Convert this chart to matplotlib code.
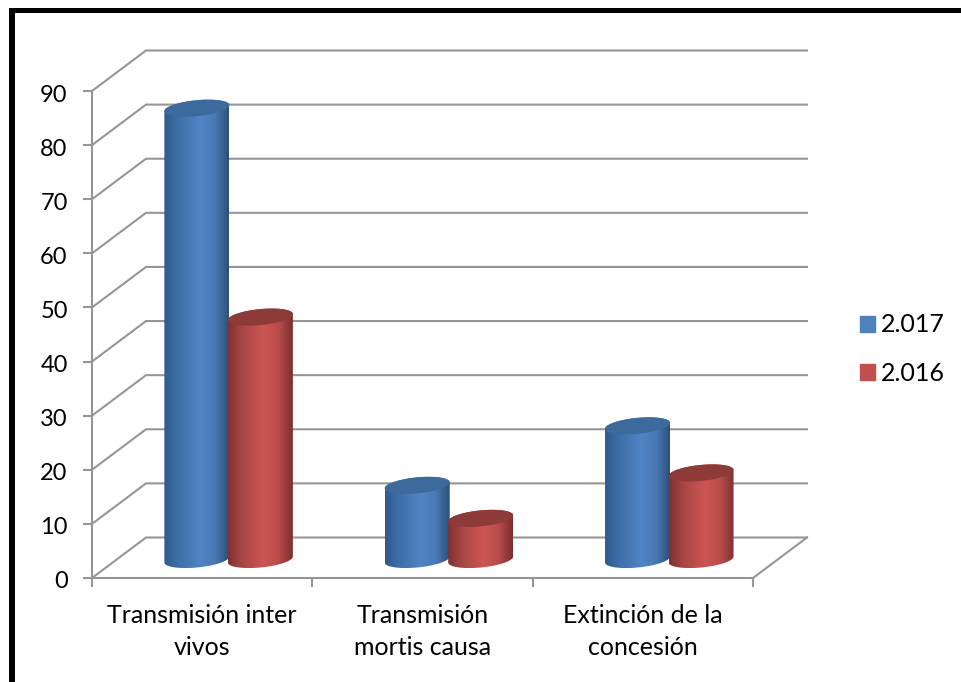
import numpy as np
import matplotlib
matplotlib.use("Agg")
import matplotlib.pyplot as plt
from matplotlib.patches import Patch, PathPatch, Rectangle
from matplotlib.path import Path
from matplotlib.transforms import ScaledTranslation

plt.rcParams['font.family'] = ['Lato', 'DejaVu Sans']

categories = ['Transmisión inter\nvivos', 'Transmisión\nmortis causa', 'Extinción de la\nconcesión']
series_names = ['2.017', '2.016']
values_2017 = [83.4, 13.7, 24.7]
values_2016 = [44.8, 7.6, 16]
y_ticks = list(range(0, 100, 10))

W, H = 961, 682
# axes box in pixels
left, right, bottom, top = 92, 753, 578, 91
px_x = (right - left) / 3
px_y = (bottom - top) / 90

# 3d look: depth of the floor, cylinder size
depth_x = 54 / px_x
depth_y = 40.5 / px_y
half_w = 32.5 / px_x
step = 63.5 / px_x
ell_b = 8 / px_y
ell_s = 3 / px_y
base_y = 18.5 / px_y

grey = '#969696'
blue_grad = ['#2f5a8c', '#3f6ea8', '#5084c4', '#4a7ab6', '#2c5078']
red_grad = ['#7d3231', '#a84644', '#cd5654', '#b84c4a', '#7a2f2e']
blue_top = '#3d6a9c'
red_top = '#8d3a39'

fig = plt.figure(figsize=(W / 100, H / 100), dpi=100)
ax = fig.add_axes([left / W, 1 - bottom / H, (right - left) / W, (bottom - top) / H])
ax.patch.set_alpha(0)


def ellipse(cx, cy, t):
    return cx + half_w * np.cos(t), cy + ell_b * np.sin(t) + ell_s * np.cos(t)


def cylinder(cx, value, stops, top_color):
    t_low = np.linspace(np.pi, 2 * np.pi, 60)
    t_up = np.linspace(0, np.pi, 60)
    x0, y0 = ellipse(cx, base_y, t_low)
    x1, y1 = ellipse(cx, base_y + value, t_up)
    pts = np.column_stack([np.r_[x0, x1], np.r_[y0, y1]])
    body = PathPatch(Path(np.vstack([pts, pts[0]])), transform=ax.transData, fc='none', ec='none')
    ax.add_patch(body)

    rgb = np.array([matplotlib.colors.to_rgb(c) for c in stops])
    s = np.linspace(0, 1, 200)
    pos = [0, 0.22, 0.55, 0.78, 1]
    grad = np.stack([np.interp(s, pos, rgb[:, i]) for i in range(3)], axis=1)[None, :, :]
    im = ax.imshow(grad, extent=[cx - half_w, cx + half_w, 0, base_y + value + 2 * ell_b],
                   aspect='auto', zorder=3, interpolation='bilinear')
    im.set_clip_path(body)

    t = np.linspace(0, 2 * np.pi, 120)
    x2, y2 = ellipse(cx, base_y + value, t)
    ax.fill(x2, y2, color=top_color, lw=0, zorder=3, clip_on=False)


# walls and floor
for v in y_ticks:
    ax.plot([0, depth_x, 3 + depth_x], [v, v + depth_y, v + depth_y], color=grey, lw=1.5,
            clip_on=False, zorder=1, solid_joinstyle='miter')
ax.plot([3, 3 + depth_x], [0, depth_y], color=grey, lw=1.5, clip_on=False, zorder=1)

for i in range(len(categories)):
    mid = i + 0.5 + depth_x * 0.49
    cylinder(mid - step / 2, values_2017[i], blue_grad, blue_top)
    cylinder(mid + step / 2, values_2016[i], red_grad, red_top)

ax.set_xlim(0, 3)
ax.set_ylim(0, 90)
ax.set_yticks(y_ticks)
ax.set_xticks([0, 1, 2, 3], labels=[])
ax.set_xticks([0.5, 1.5, 2.5], labels=categories, minor=True, linespacing=1.5)
ax.tick_params(axis='x', which='minor', length=0, pad=18.5, labelsize=18)
ax.tick_params(axis='x', which='major', length=6.5, width=1.5, color=grey)
ax.tick_params(axis='y', length=6.5, width=1.5, color=grey, pad=11, labelsize=17)
for label in ax.get_yticklabels():
    label.set_transform(label.get_transform() + ScaledTranslation(0, -2 / 100, fig.dpi_scale_trans))
for side in ['top', 'right']:
    ax.spines[side].set_visible(False)
for side in ['left', 'bottom']:
    ax.spines[side].set_color(grey)
    ax.spines[side].set_linewidth(1.5)

handles = [Patch(color='#4f81bd'), Patch(color='#c0504d')]
fig.legend(handles, series_names, loc='upper left', bbox_to_anchor=(860 / W, 1 - 313.5 / H), frameon=False,
           fontsize=18, handlelength=0.6, handleheight=0.6, handletextpad=0.25, labelspacing=1.02,
           borderpad=0, borderaxespad=0)

# black frame of the picture (left and top only, the rest is cut off)
fig.add_artist(Rectangle((9 / W, 0), 6 / W, 1 - 8 / H, transform=fig.transFigure, color='black', lw=0))
fig.add_artist(Rectangle((9 / W, 1 - 13 / H), 1 - 9 / W, 5 / H, transform=fig.transFigure, color='black', lw=0))

fig.savefig('out.png', dpi=100)
